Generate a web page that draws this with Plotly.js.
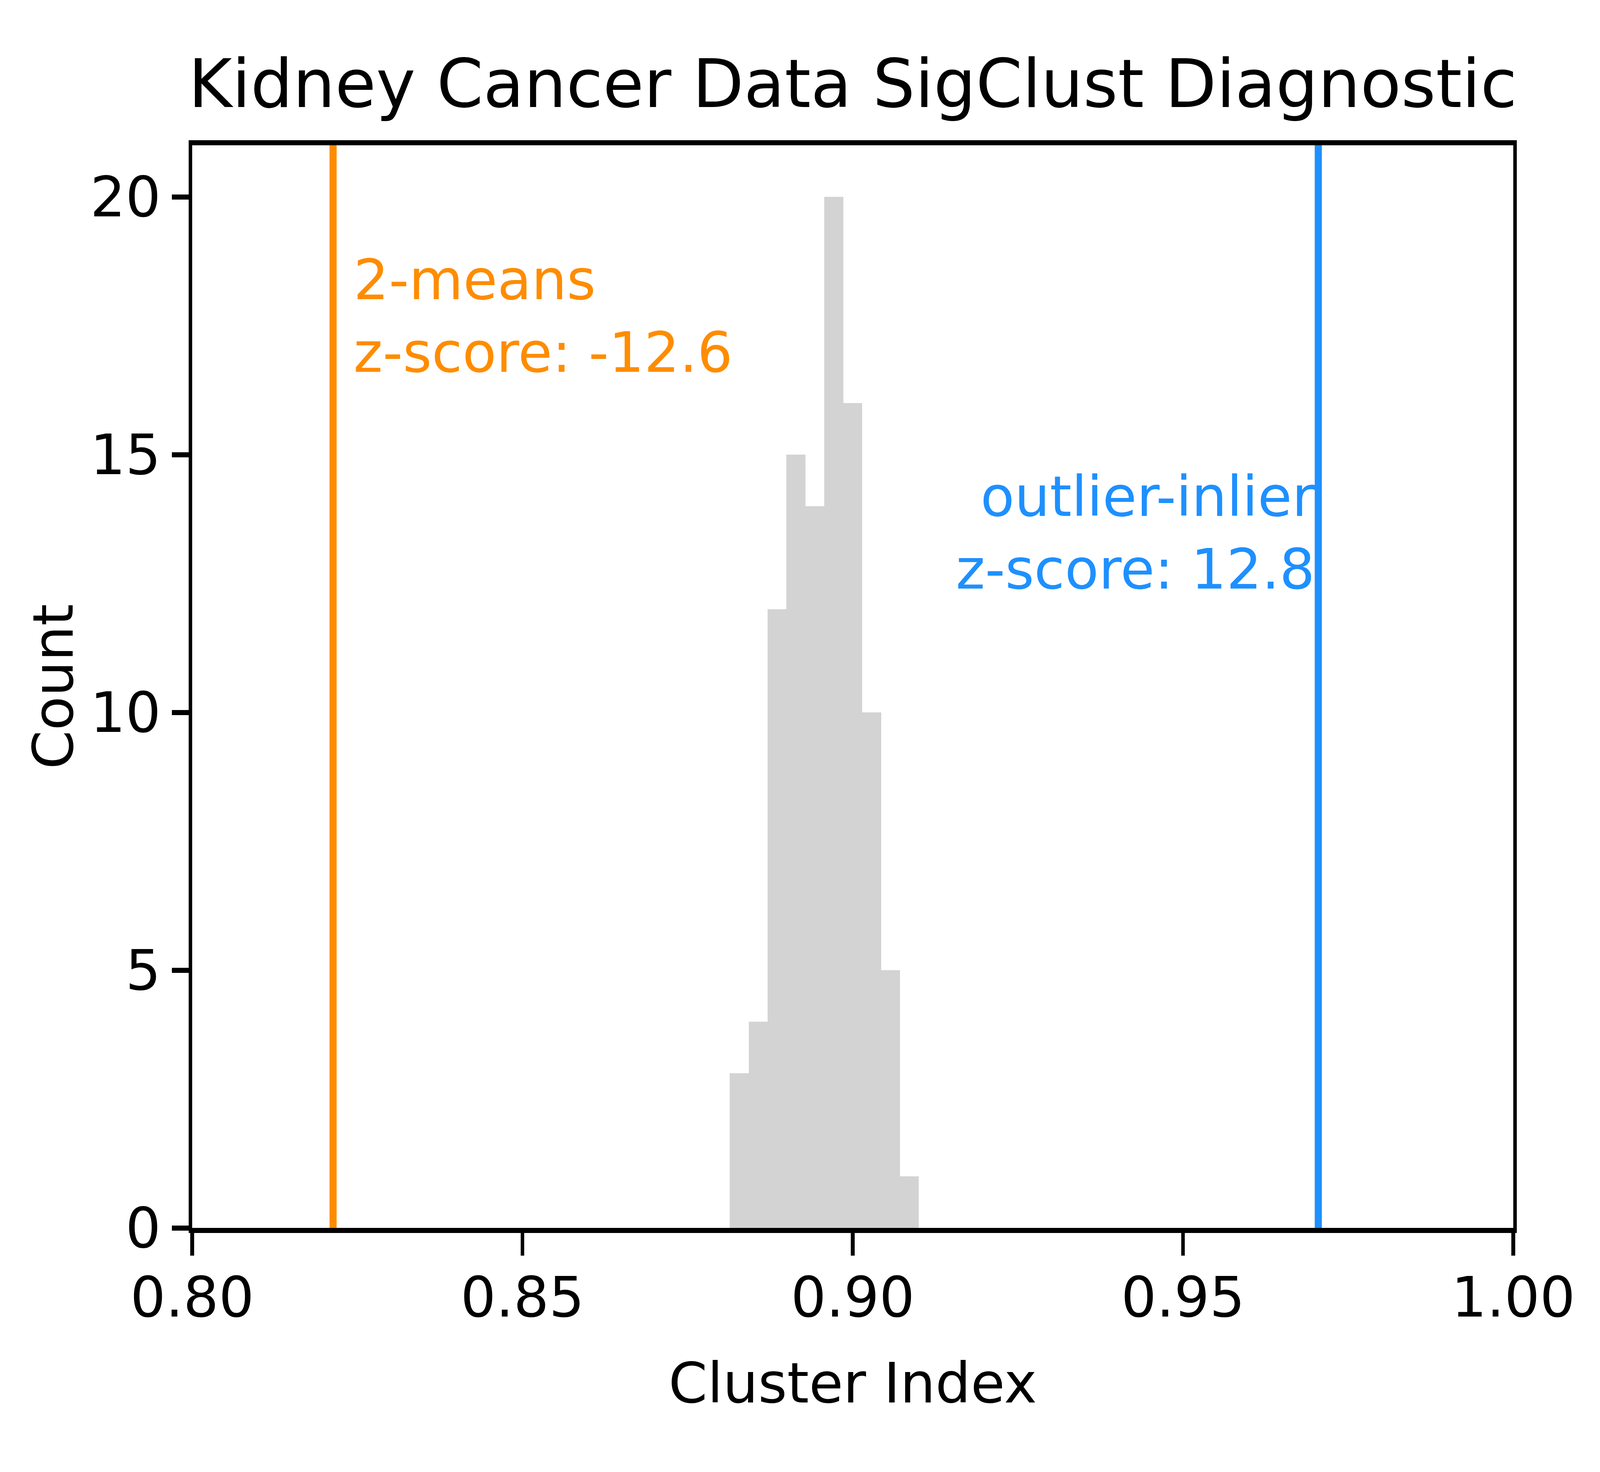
<!DOCTYPE html>
<html>
<head>
<meta charset="utf-8">
<script src="https://cdn.plot.ly/plotly-3.0.1.min.js"></script>
<style>
  html, body { margin: 0; padding: 0; background: #ffffff; overflow: hidden; }
</style>
</head>
<body>
<div id="chart"></div>
<script>
// ---- data ----
var binEdges = [0.88137, 0.88426, 0.88709, 0.88997, 0.89287, 0.89570, 0.89858, 0.90143, 0.90430, 0.90713, 0.91001];
var binCounts = [3, 4, 12, 15, 14, 20, 16, 10, 5, 1];
var twoMeansIndex = 0.82133;
var outlierInlierIndex = 0.97048;
var twoMeansLabel = ["2-means", "z-score: -12.6"];
var outlierLabel = ["outlier-inlier", "z-score: 12.8"];
var xTickVals = [0.80, 0.85, 0.90, 0.95, 1.00];
var xTickText = ["0.80", "0.85", "0.90", "0.95", "1.00"];
var yTickVals = [0, 5, 10, 15, 20];
var yTickText = ["0", "5", "10", "15", "20"];

// bar geometry derived from the bin edges
var centers = [], widths = [];
for (var i = 0; i < binCounts.length; i++) {
  centers.push((binEdges[i] + binEdges[i + 1]) / 2);
  widths.push(binEdges[i + 1] - binEdges[i]);
}

// design size of the reference; fit it to the actual viewport
var W0 = 5631, H0 = 3769;
var vw = window.innerWidth || W0, vh = window.innerHeight || H0;
var sx = vw / W0, sy = vh / H0;
var sf = Math.sqrt(sx * sy);
function px(v) { return v * sx; }
function py(v) { return v * sy; }
function pf(v) { return v * sf; }

var chartDiv = document.getElementById("chart");
chartDiv.style.width = vw + "px";
chartDiv.style.height = vh + "px";

var FONT = "DejaVu Sans, sans-serif";
var ORANGE = "#ff8c00";
var BLUE = "#1e90ff";
var FS = pf(167);

var traces = [{
  type: "bar",
  x: centers,
  y: binCounts,
  width: widths,
  marker: { color: "#d3d3d3", line: { width: 0 } },
  showlegend: false,
  hoverinfo: "skip"
}];

var layout = {
  width: vw,
  height: vh,
  paper_bgcolor: "#ffffff",
  plot_bgcolor: "#ffffff",
  margin: { l: px(677), r: px(305), t: py(372), b: py(625), pad: 0 },
  showlegend: false,
  bargap: 0,
  font: { family: FONT, size: FS, color: "#000000" },
  title: {
    text: "Kidney Cancer Data SigClust Diagnostic",
    font: { family: FONT, size: pf(200), color: "#000000" },
    x: 0.5, xref: "paper", xanchor: "center",
    y: 1 - 214 / H0, yref: "container", yanchor: "middle"
  },
  xaxis: {
    range: [0.8, 1.0],
    tickmode: "array",
    tickvals: xTickVals,
    ticktext: xTickText,
    ticks: "outside",
    ticklen: py(58),
    tickwidth: px(13),
    tickcolor: "#000000",
    ticklabelstandoff: -py(15),
    showline: true,
    linewidth: py(13),
    linecolor: "#000000",
    mirror: true,
    showgrid: false,
    zeroline: false,
    tickfont: { family: FONT, size: FS, color: "#000000" },
    title: { text: "Cluster Index", font: { family: FONT, size: FS, color: "#000000" }, standoff: py(93) },
    automargin: false
  },
  yaxis: {
    range: [0, 21],
    tickmode: "array",
    tickvals: yTickVals,
    ticktext: yTickText,
    ticks: "outside",
    ticklen: px(58),
    tickwidth: py(13),
    tickcolor: "#000000",
    ticklabelstandoff: px(10),
    showline: true,
    linewidth: px(13),
    linecolor: "#000000",
    mirror: true,
    showgrid: false,
    zeroline: false,
    tickfont: { family: FONT, size: FS, color: "#000000" },
    title: { text: "Count", font: { family: FONT, size: FS, color: "#000000" }, standoff: 0 },
    automargin: false
  },
  shapes: [
    { type: "line", xref: "x", yref: "paper", x0: twoMeansIndex, x1: twoMeansIndex, y0: 0, y1: 1,
      line: { color: ORANGE, width: px(25) } },
    { type: "line", xref: "x", yref: "paper", x0: outlierInlierIndex, x1: outlierInlierIndex, y0: 0, y1: 1,
      line: { color: BLUE, width: px(25) } }
  ],
  annotations: [
    { xref: "x", yref: "y", x: 0.82433, y: 18.39, text: twoMeansLabel[0], showarrow: false,
      xanchor: "left", yanchor: "middle", font: { family: FONT, size: FS, color: ORANGE } },
    { xref: "x", yref: "y", x: 0.82433, y: 16.98, text: twoMeansLabel[1], showarrow: false,
      xanchor: "left", yanchor: "middle", font: { family: FONT, size: FS, color: ORANGE } },
    { xref: "x", yref: "y", x: 0.97010, y: 14.18, text: outlierLabel[0], showarrow: false,
      xanchor: "right", yanchor: "middle", font: { family: FONT, size: FS, color: BLUE } },
    { xref: "x", yref: "y", x: 0.97010, y: 12.77, text: outlierLabel[1], showarrow: false,
      xanchor: "right", yanchor: "middle", font: { family: FONT, size: FS, color: BLUE } }
  ]
};

Plotly.newPlot(chartDiv, traces, layout, { staticPlot: true, displayModeBar: false });
</script>
</body>
</html>
